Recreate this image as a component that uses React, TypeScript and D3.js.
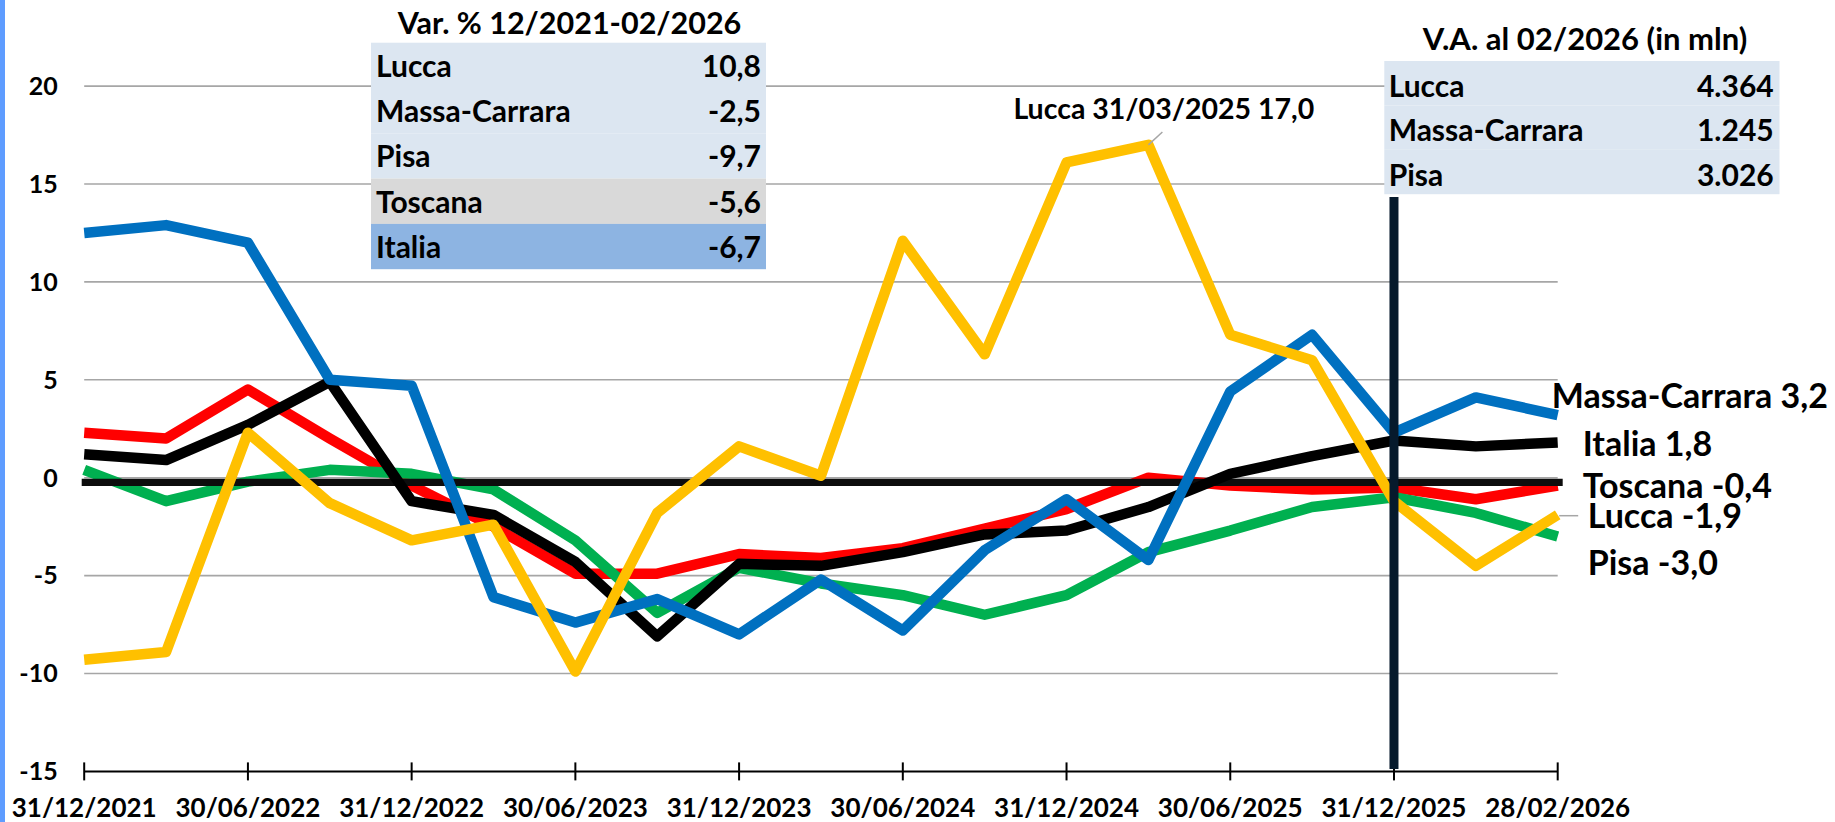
import React, { useEffect } from 'react';
import * as d3 from 'd3';

const dates = [
  '31/12/2021', '31/03/2022', '30/06/2022', '30/09/2022', '31/12/2022',
  '31/03/2023', '30/06/2023', '30/09/2023', '31/12/2023', '31/03/2024',
  '30/06/2024', '30/09/2024', '31/12/2024', '31/03/2025', '30/06/2025',
  '30/09/2025', '31/12/2025', '31/01/2026', '28/02/2026',
];
const tickDates = [
  '31/12/2021', '30/06/2022', '31/12/2022', '30/06/2023', '31/12/2023',
  '30/06/2024', '31/12/2024', '30/06/2025', '31/12/2025', '28/02/2026',
];
const yTicks = [-15, -10, -5, 0, 5, 10, 15, 20];

const toscana = [2.3, 2.0, 4.5, 2.0, -0.4, -2.5, -4.9, -4.9, -3.9, -4.1, -3.6, -2.6, -1.6, 0.0, -0.4, -0.6, -0.5, -1.1, -0.4];
const italia = [1.2, 0.9, 2.7, 4.9, -1.2, -1.9, -4.3, -8.1, -4.4, -4.5, -3.8, -2.9, -2.7, -1.5, 0.2, 1.1, 1.9, 1.6, 1.8];
const pisa = [0.4, -1.2, -0.2, 0.4, 0.2, -0.6, -3.2, -6.9, -4.6, -5.4, -6.0, -7.0, -6.0, -3.8, -2.7, -1.5, -1.0, -1.8, -3.0];
const lucca = [-9.3, -8.9, 2.3, -1.3, -3.2, -2.4, -9.9, -1.8, 1.6, 0.1, 12.1, 6.3, 16.1, 17.0, 7.3, 6.0, -1.2, -4.5, -1.9];
const massaCarrara = [12.5, 12.9, 12.0, 5.0, 4.7, -6.1, -7.4, -6.2, -8.0, -5.2, -7.8, -3.7, -1.1, -4.2, 4.4, 7.3, 2.3, 4.1, 3.2];

const varTitle = 'Var. % 12/2021-02/2026';
const varLabels = ['Lucca', 'Massa-Carrara', 'Pisa', 'Toscana', 'Italia'];
const varValues = ['10,8', '-2,5', '-9,7', '-5,6', '-6,7'];
const vaTitle = 'V.A. al 02/2026 (in mln)';
const vaLabels = ['Lucca', 'Massa-Carrara', 'Pisa'];
const vaValues = ['4.364', '1.245', '3.026'];

const markerDate = '31/12/2025';
const peakDate = '31/03/2025';

const FONT = 'Lato, "Open Sans", sans-serif';

const series = [
  { name: 'Toscana', values: toscana, color: '#FF0000', dx: 25, dy: 12.5 },
  { name: 'Pisa', values: pisa, color: '#00B050', dx: 30, dy: 38.6 },
  { name: 'Italia', values: italia, color: '#000000', dx: 25, dy: 13.2 },
  { name: 'Lucca', values: lucca, color: '#FFC000', dx: 30, dy: 13.4 },
  { name: 'Massa-Carrara', values: massaCarrara, color: '#0070C0', dx: -6, dy: -7 },
];

const fmt = (v: number) => v.toFixed(1).replace('.', ',');

export default function App() {
  useEffect(() => {
    document.body.style.margin = '0';
  }, []);

  const x = d3.scalePoint<string>().domain(dates).range([84.2, 1557.7]);
  const y = d3.scaleLinear().domain([-15, 20]).range([771.4, 86.1]);
  const lineGen = d3
    .line<number>()
    .x((_, i) => x(dates[i]) as number)
    .y((d) => y(d));

  const x0 = x(dates[0]) as number;
  const x1 = x(dates[dates.length - 1]) as number;
  const xm = x(markerDate) as number;
  const peakIdx = dates.indexOf(peakDate);
  const px = x(peakDate) as number;
  const py = y(lucca[peakIdx]);

  const below = ['Toscana', 'Pisa'];
  const above = ['Italia', 'Massa-Carrara', 'Lucca'];

  const t1x = 371, t1y = 42.7, t1w = 395, rowH1 = 45.3;
  const t2x = 1384.3, t2y = 61, t2w = 395.2, rowH2 = 44.4;
  const rowFill1 = ['#DCE6F1', '#DCE6F1', '#DCE6F1', '#D9D9D9', '#8DB4E2'];

  const drawSeries = (n: string) => {
    const s = series.find((q) => q.name === n)!;
    return (
      <path
        key={'s' + n}
        d={lineGen(s.values) as string}
        fill="none"
        stroke={s.color}
        strokeWidth={10.5}
        strokeLinejoin="round"
        strokeLinecap="butt"
      />
    );
  };

  return (
    <svg
      width={1835}
      height={822}
      style={{ position: 'absolute', left: 0, top: 0, display: 'block', background: '#fff' }}
      fontFamily={FONT}
      fontWeight={700}
    >
      <rect x={0} y={0} width={1835} height={822} fill="#fff" />
      <rect x={0} y={0} width={5} height={822} fill="#5E9CFF" />

      {/* gridlines */}
      {yTicks.filter((t) => t !== -15).map((t) => (
        <line key={'g' + t} x1={x0} x2={x1} y1={y(t)} y2={y(t)} stroke="#A6A6A6" strokeWidth={1.6} />
      ))}

      {/* y tick labels */}
      {yTicks.map((t) => (
        <text key={'yl' + t} x={57.7} y={y(t) + 8.8} textAnchor="end" fontSize={25} fill="#000">
          {t}
        </text>
      ))}

      {/* x axis */}
      <line x1={x0} x2={x1} y1={y(-15)} y2={y(-15)} stroke="#000" strokeWidth={2} />
      {tickDates.map((d) => (
        <g key={'xt' + d}>
          <line x1={x(d)} x2={x(d)} y1={y(-15) - 9} y2={y(-15) + 9} stroke="#000" strokeWidth={2} />
          <text x={x(d)} y={817} textAnchor="middle" fontSize={26} fill="#000">
            {d}
          </text>
        </g>
      ))}

      {/* table 1 */}
      <text x={t1x + t1w / 2 + 1} y={34.3} textAnchor="middle" fontSize={30.5} fill="#000">
        {varTitle}
      </text>
      {varLabels.map((l, i) => (
        <g key={'t1' + l}>
          <rect x={t1x} y={t1y + i * rowH1} width={t1w} height={rowH1} fill={rowFill1[i]} />
          <text x={t1x + 5} y={t1y + i * rowH1 + 34} fontSize={30} fill="#000">
            {l}
          </text>
          <text x={t1x + t1w - 5} y={t1y + i * rowH1 + 34} fontSize={30} fill="#000" textAnchor="end">
            {varValues[i]}
          </text>
        </g>
      ))}

      {/* table 2 */}
      <text x={t2x + t2w / 2 + 3} y={50} textAnchor="middle" fontSize={31} fill="#000">
        {vaTitle}
      </text>
      {vaLabels.map((l, i) => (
        <g key={'t2' + l}>
          <rect x={t2x} y={t2y + i * rowH2} width={t2w} height={rowH2} fill="#DCE6F1" />
          <text x={t2x + 4.4} y={t2y + i * rowH2 + 36} fontSize={30} fill="#000">
            {l}
          </text>
          <text x={t2x + t2w - 5.8} y={t2y + i * rowH2 + 36} fontSize={30} fill="#000" textAnchor="end">
            {vaValues[i]}
          </text>
        </g>
      ))}

      {/* series below the zero line */}
      {below.map(drawSeries)}

      {/* zero line */}
      <line x1={x0 - 2.5} x2={x1 + 5} y1={y(0) + 4.6} y2={y(0) + 4.6} stroke="#0D0D0D" strokeWidth={7.3} />

      {/* series above the zero line */}
      {above.map(drawSeries)}

      {/* marker vertical line */}
      <line x1={xm} x2={xm} y1={197} y2={769} stroke="#061A2C" strokeWidth={9} />

      {/* peak annotation */}
      <line x1={px} y1={py} x2={px + 14} y2={py - 12.8} stroke="#A6A6A6" strokeWidth={1.5} />
      <text x={1013.4} y={119} fontSize={28.5} fill="#000">
        {`Lucca ${peakDate} ${fmt(lucca[peakIdx])}`}
      </text>

      {/* end labels */}
      {series.map((s) => {
        const v = s.values[s.values.length - 1];
        return (
          <text key={'el' + s.name} x={x1 + s.dx} y={y(v) + s.dy} fontSize={34} fill="#000">
            {`${s.name} ${fmt(v)}`}
          </text>
        );
      })}
      <line
        x1={x1 + 1.5}
        x2={x1 + 20.5}
        y1={y(lucca[lucca.length - 1]) + 0.8}
        y2={y(lucca[lucca.length - 1]) + 0.8}
        stroke="#A6A6A6"
        strokeWidth={1.5}
      />
    </svg>
  );
}
